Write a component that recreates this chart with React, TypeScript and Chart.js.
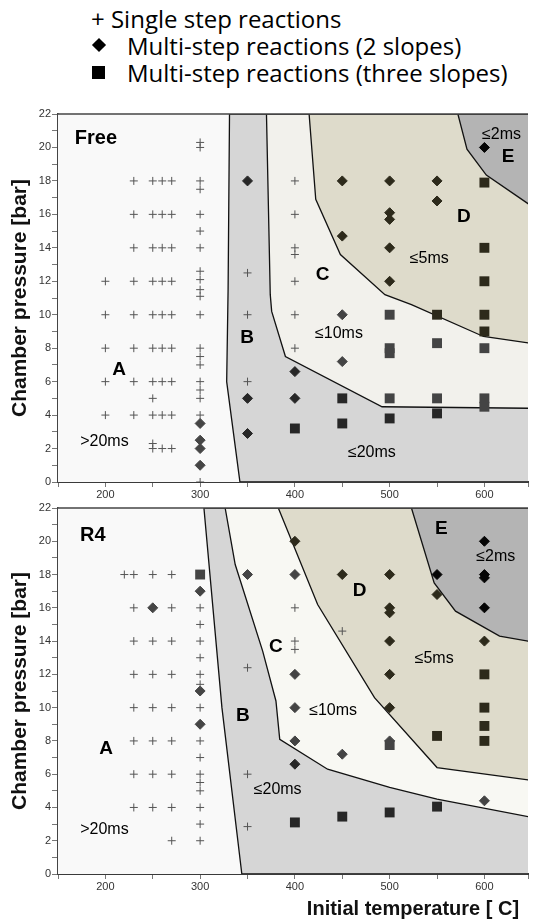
import React, { useEffect, useRef } from 'react';
import { Chart, registerables } from 'chart.js';

Chart.register(...registerables);

type Pt = [number, number];

// ---------- axis ticks ----------
const xTickLabels = [200, 300, 400, 500, 600];
const yTickLabels = [0, 2, 4, 6, 8, 10, 12, 14, 16, 18, 20, 22];

// ---------- panel "Free" ----------
const freeSingle: Pt[] = [
  [200, 12], [200, 10], [200, 8], [200, 6], [200, 4],
  [230, 18], [230, 16], [230, 14], [230, 12], [230, 10], [230, 8], [230, 6], [230, 4],
  [250, 18], [250, 16], [250, 14], [250, 12], [250, 10], [250, 8], [250, 6], [250, 5], [250, 4], [250, 2.3], [250, 2],
  [260, 18], [260, 16], [260, 14], [260, 12], [260, 10], [260, 8], [260, 6], [260, 4], [260, 2],
  [270, 18], [270, 16], [270, 14], [270, 12], [270, 10], [270, 8], [270, 6], [270, 4], [270, 2],
  [300, 20.3], [300, 20], [300, 18], [300, 17.5], [300, 16], [300, 15], [300, 14], [300, 12.6], [300, 12.1],
  [300, 11.5], [300, 11.1], [300, 10], [300, 8], [300, 7.5], [300, 7], [300, 6], [300, 5.5], [300, 5], [300, 4], [300, 0],
  [350, 12.5], [350, 10], [350, 6],
  [400, 18], [400, 16], [400, 14], [400, 13.6], [400, 12], [400, 10], [400, 8],
];
const freeTwoSlopes: Pt[] = [
  [300, 3.5], [300, 2.5], [300, 2], [300, 1],
  [350, 18], [350, 5], [350, 2.9],
  [400, 6.6], [400, 5],
  [450, 18], [450, 14.7], [450, 10], [450, 7.2],
  [500, 18], [500, 16.1], [500, 15.7], [500, 14], [500, 12],
  [550, 18], [550, 16.8],
  [600, 20],
];
const freeThreeSlopes: Pt[] = [
  [400, 3.2],
  [450, 5], [450, 3.5],
  [500, 10], [500, 8], [500, 7.7], [500, 5], [500, 3.8],
  [550, 10], [550, 8.3], [550, 5], [550, 4.1],
  [600, 17.9], [600, 14], [600, 12], [600, 10], [600, 9], [600, 8], [600, 5], [600, 4.5],
];
const freeEdgeAB: Pt[] = [[331, 22], [329.5, 11.5], [328, 6], [342, 0]];
const freeEdgeBC: Pt[] = [[370, 22], [374, 11.2], [375.5, 10.2], [390, 7.5], [492, 4.5], [660, 4.4]];
const freeEdgeCD: Pt[] = [[415, 22], [422, 16.9], [448, 13.6], [495, 11.2], [523, 10.6], [599, 8.7], [660, 8.2]];
const freeEdgeDE: Pt[] = [[572, 22], [581.6, 19.9], [602, 18.35], [660, 16.1]];
const freeLabelText = ['Free', 'A', 'B', 'C', 'D', 'E', '>20ms', '≤20ms', '≤10ms', '≤5ms', '≤2ms'];
const freeLabelX = [190, 214.5, 349.6, 429.3, 578.2, 625, 199, 481.2, 446.5, 541.8, 618];
const freeLabelY = [20.55, 6.7, 8.6, 12.37, 15.86, 19.44, 2.41, 1.78, 8.89, 13.33, 20.78];

// ---------- panel "R4" ----------
const r4Single: Pt[] = [
  [220, 18],
  [230, 18], [230, 16], [230, 14], [230, 12], [230, 10], [230, 8], [230, 6], [230, 4],
  [250, 18], [250, 14], [250, 12], [250, 10], [250, 8], [250, 6], [250, 4],
  [270, 18], [270, 16], [270, 14], [270, 12], [270, 10], [270, 8], [270, 6], [270, 4], [270, 2],
  [300, 16], [300, 15], [300, 14], [300, 13], [300, 12], [300, 11.4], [300, 10], [300, 8], [300, 7],
  [300, 6], [300, 5.5], [300, 5], [300, 4], [300, 3], [300, 2],
  [350, 12.4], [350, 6], [350, 2.85],
  [400, 16], [400, 14], [400, 13.5],
  [450, 14.6],
];
const r4TwoSlopes: Pt[] = [
  [250, 16], [300, 17], [300, 11], [300, 9],
  [350, 18],
  [400, 20], [400, 18], [400, 12], [400, 10], [400, 8], [400, 6.6],
  [450, 18], [450, 7.2],
  [500, 18], [500, 16], [500, 15.7], [500, 14], [500, 12], [500, 10], [500, 8],
  [550, 18], [550, 16.8],
  [600, 20], [600, 18], [600, 17.8], [600, 16], [600, 14], [600, 4.4],
];
const r4ThreeSlopes: Pt[] = [
  [300, 18],
  [400, 3.1], [450, 3.45], [500, 7.75], [500, 3.7], [550, 8.3], [550, 4.05],
  [600, 12], [600, 10], [600, 8.9], [600, 8],
];
const r4EdgeAB: Pt[] = [[304, 22], [323, 10], [344, 0]];
const r4EdgeBC: Pt[] = [[326.4, 22], [337, 18.6], [366, 13.4], [380, 10.4], [384, 8.1], [434.5, 6.3], [500, 5.2], [550, 4.5], [660, 3.3]];
const r4EdgeCD: Pt[] = [[382.5, 22], [424, 16.2], [484, 10.6], [550, 6.4], [660, 5.55]];
const r4EdgeDE: Pt[] = [[523, 22], [547, 17.5], [569.5, 15.8], [616, 14.3], [660, 13.85]];
const r4LabelText = ['R4', 'A', 'B', 'C', 'D', 'E', '>20ms', '≤20ms', '≤10ms', '≤5ms', '≤2ms'];
const r4LabelX = [186.8, 200.7, 345.1, 380, 468.4, 554.6, 199, 381.8, 440.3, 547, 612];
const r4LabelY = [20.35, 7.5, 9.52, 13.64, 17.03, 20.74, 2.65, 5.05, 9.81, 12.92, 19.05];

// ---------- helpers ----------
const X_MIN = 150;
const X_MAX = 646;
const FAR_X = 660;

function inside(x: number, y: number, poly: Pt[]) {
  let c = false;
  for (let i = 0, j = poly.length - 1; i < poly.length; j = i++) {
    const [xi, yi] = poly[i];
    const [xj, yj] = poly[j];
    if ((yi > y) !== (yj > y) && x < ((xj - xi) * (y - yi)) / (yj - yi) + xi) c = !c;
  }
  return c;
}

type PanelProps = {
  top: number;
  height: number;
  padTop: number;
  xAxisHeight: number;
  single: Pt[];
  two: Pt[];
  three: Pt[];
  edgeAB: Pt[];
  edgeBC: Pt[];
  edgeCD: Pt[];
  edgeDE: Pt[];
  colorC: string;
  labelText: string[];
  labelX: number[];
  labelY: number[];
};

function Panel(p: PanelProps) {
  const ref = useRef<HTMLCanvasElement | null>(null);
  useEffect(() => {
    if (!ref.current) return;
    const toXY = (arr: Pt[]) => arr.map(([x, y]) => ({ x, y }));
    const polyA: Pt[] = [[X_MIN - 20, 0], [X_MIN - 20, 22], [FAR_X, 22], [FAR_X, 0]];
    const polyB: Pt[] = [...p.edgeAB, [FAR_X, 0], [FAR_X, 22], p.edgeAB[0]];
    const polyC: Pt[] = [...p.edgeBC, [FAR_X, 22], p.edgeBC[0]];
    const polyD: Pt[] = [...p.edgeCD, [FAR_X, 22], p.edgeCD[0]];
    const polyE: Pt[] = [...p.edgeDE, [FAR_X, 22], p.edgeDE[0]];
    const shades: { poly: Pt[]; color: string }[] = [
      { poly: polyE, color: '#050505' },
      { poly: polyD, color: '#2d2a1b' },
      { poly: polyC, color: '#444444' },
      { poly: polyB, color: '#272727' },
    ];
    const shade = (ctx: any) => {
      const r = ctx.raw;
      if (!r) return '#444';
      for (const s of shades) if (inside(r.x, r.y, s.poly)) return s.color;
      return '#454545';
    };
    const region = (poly: Pt[], color: string, order: number, bw = 1.3) => ({
      data: toXY(poly),
      showLine: true,
      fill: 'shape',
      backgroundColor: color,
      borderColor: '#111',
      borderWidth: bw,
      pointRadius: 0,
      tension: 0,
      order,
    });

    const textPlugin = {
      id: 'regionText',
      afterDatasetsDraw(chart: any) {
        const { ctx, chartArea, scales } = chart;
        ctx.save();
        ctx.strokeStyle = '#444';
        ctx.lineWidth = 1.5;
        ctx.beginPath();
        ctx.moveTo(chartArea.left, chartArea.top);
        ctx.lineTo(chartArea.right, chartArea.top);
        ctx.stroke();
        ctx.fillStyle = '#000';
        ctx.textAlign = 'center';
        ctx.textBaseline = 'middle';
        p.labelText.forEach((t, i) => {
          const big = !t.includes('ms');
          const isName = t === 'Free' || t === 'R4';
          ctx.font = big
            ? `bold ${isName ? 20 : 19}px "Liberation Sans", Arial, sans-serif`
            : '16px "Liberation Sans", Arial, sans-serif';
          ctx.fillText(t, scales.x.getPixelForValue(p.labelX[i]), scales.y.getPixelForValue(p.labelY[i]));
        });
        ctx.restore();
      },
    };

    const tickFont = { family: '"Liberation Sans", Arial, sans-serif', size: 11 };
    const chart = new Chart(ref.current, {
      type: 'scatter',
      data: {
        datasets: [
          {
            data: toXY(p.single),
            pointStyle: 'cross',
            pointRadius: 4,
            borderColor: '#555',
            backgroundColor: '#555',
            borderWidth: 1,
            order: 0,
          },
          {
            data: toXY(p.two),
            pointStyle: 'rectRot',
            pointRadius: 5,
            pointBackgroundColor: shade,
            pointBorderColor: shade,
            borderWidth: 1,
            order: 1,
          },
          {
            data: toXY(p.three),
            pointStyle: 'rect',
            pointRadius: 7,
            pointBackgroundColor: shade,
            pointBorderColor: shade,
            borderWidth: 0,
            order: 2,
          },
          region(polyE, '#b4b4b4', 3),
          region(polyD, '#dedbcb', 4),
          region(polyC, p.colorC, 5),
          region(polyB, '#d6d6d6', 6),
          region(polyA, '#f9f9f9', 7, 0),
        ] as any,
      },
      options: {
        animation: false,
        responsive: false,
        events: [],
        layout: { padding: { top: p.padTop, right: 0, bottom: 0, left: 0 } },
        plugins: { legend: { display: false }, tooltip: { enabled: false } },
        scales: {
          x: {
            type: 'linear',
            min: X_MIN,
            max: X_MAX,
            afterFit: (s: any) => {
              s.height = p.xAxisHeight;
            },
            border: { display: true, color: '#3a3a3a', width: 2 },
            grid: { drawOnChartArea: false, drawTicks: true, tickLength: 5, color: '#777' },
            ticks: {
              stepSize: 50,
              autoSkip: false,
              maxRotation: 0,
              padding: 1,
              color: '#333',
              font: tickFont,
              callback: (v: any) => (xTickLabels.includes(Number(v)) ? String(v) : ''),
            },
          },
          y: {
            type: 'linear',
            min: 0,
            max: 22,
            afterFit: (s: any) => {
              s.width = 58;
            },
            border: { display: true, color: '#444', width: 1.5 },
            grid: { drawOnChartArea: false, drawTicks: true, tickLength: 6, color: '#777' },
            title: {
              display: true,
              text: 'Chamber pressure [bar]',
              color: '#111',
              padding: { top: 8, bottom: 0 },
              font: { family: '"Liberation Sans", Arial, sans-serif', size: 21, weight: 'bold' },
            },
            ticks: {
              stepSize: 1,
              autoSkip: false,
              padding: 1,
              color: '#333',
              font: tickFont,
              callback: (v: any) => (yTickLabels.includes(Number(v)) ? String(v) : ''),
            },
          },
        },
      } as any,
      plugins: [textPlugin],
    });
    return () => chart.destroy();
  }, []);
  return (
    <canvas
      ref={ref}
      width={535}
      height={p.height}
      style={{ position: 'absolute', left: 0, top: p.top, width: 535, height: p.height }}
    />
  );
}

const legendFont = '"Open Sans", "Noto Sans", sans-serif';

export default function App() {
  useEffect(() => {
    document.body.style.margin = '0';
  }, []);
  const lineStyle = (top: number): React.CSSProperties => ({
    position: 'absolute',
    top,
    height: 27,
    lineHeight: '27px',
    fontFamily: legendFont,
    fontSize: 24,
    color: '#000',
    whiteSpace: 'nowrap',
  });
  return (
    <div style={{ position: 'relative', width: 535, height: 921, background: '#fff', overflow: 'hidden' }}>
      <div style={{ ...lineStyle(5), left: 91 }}>+ Single step reactions</div>
      <div
        style={{
          position: 'absolute',
          left: 94,
          top: 40,
          width: 10,
          height: 10,
          background: '#000',
          transform: 'rotate(45deg)',
        }}
      />
      <div style={{ ...lineStyle(32), left: 127 }}>Multi-step reactions (2 slopes)</div>
      <div style={{ position: 'absolute', left: 92, top: 66, width: 13, height: 13, background: '#000' }} />
      <div style={{ ...lineStyle(59), left: 127 }}>Multi-step reactions (three slopes)</div>

      <Panel
        top={100}
        height={400}
        padTop={14}
        xAxisHeight={18}
        single={freeSingle}
        two={freeTwoSlopes}
        three={freeThreeSlopes}
        edgeAB={freeEdgeAB}
        edgeBC={freeEdgeBC}
        edgeCD={freeEdgeCD}
        edgeDE={freeEdgeDE}
        colorC="#f2f1ec"
        labelText={freeLabelText}
        labelX={freeLabelX}
        labelY={freeLabelY}
      />
      <Panel
        top={500}
        height={421}
        padTop={8}
        xAxisHeight={47}
        single={r4Single}
        two={r4TwoSlopes}
        three={r4ThreeSlopes}
        edgeAB={r4EdgeAB}
        edgeBC={r4EdgeBC}
        edgeCD={r4EdgeCD}
        edgeDE={r4EdgeDE}
        colorC="#f8f8f3"
        labelText={r4LabelText}
        labelX={r4LabelX}
        labelY={r4LabelY}
      />
      <div
        style={{
          position: 'absolute',
          left: 263,
          width: 300,
          top: 896,
          lineHeight: '24px',
          textAlign: 'center',
          fontFamily: '"Liberation Sans", Arial, sans-serif',
          fontWeight: 'bold',
          fontSize: 20,
          color: '#111',
          whiteSpace: 'nowrap',
        }}
      >
        Initial temperature [ C]
      </div>
    </div>
  );
}
